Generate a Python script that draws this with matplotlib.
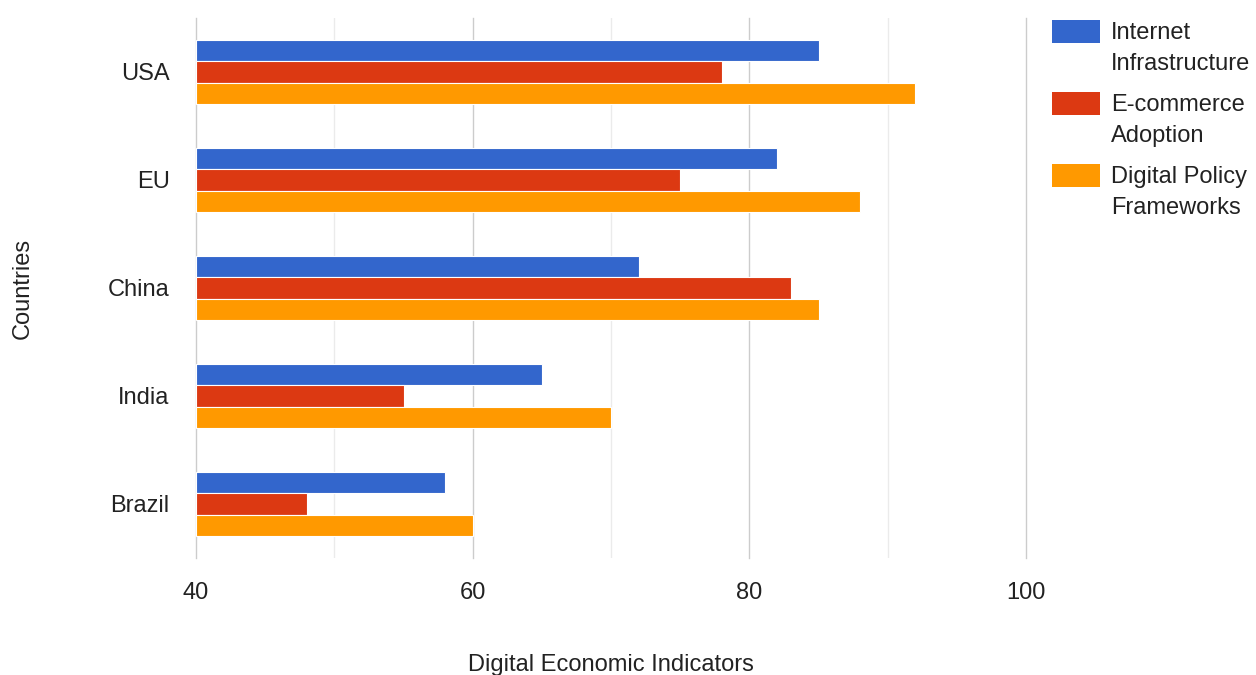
import matplotlib
matplotlib.use("Agg")
import matplotlib.pyplot as plt
from matplotlib.patches import Rectangle
import numpy as np

plt.rcParams['font.family'] = ['Liberation Sans', 'DejaVu Sans']

countries = ["USA", "EU", "China", "India", "Brazil"]
series_names = ["Internet\nInfrastructure", "E-commerce\nAdoption", "Digital Policy\nFrameworks"]
internet = [85, 82, 72, 65, 58]
ecommerce = [78, 75, 83, 55, 48]
policy = [92, 88, 85, 70, 60]
colors = ["#3366CC", "#DC3912", "#FF9900"]
xticks = [40, 60, 80, 100]

W, H = 1256, 675
FS = 17
TXT = "#222222"
fig = plt.figure(figsize=(W / 100, H / 100), dpi=100)
ax = fig.add_axes([196 / W, 117 / H, 830 / W, 540 / H])

y = np.arange(len(countries))
h = 0.2
for i, (vals, name, c) in enumerate(zip([internet, ecommerce, policy], series_names, colors)):
    ax.barh(y + (i - 1) * h, np.array(vals) - 40, left=40, height=h, color=c,
            edgecolor="white", linewidth=0.8, label=name, zorder=3)

ax.set_xlim(40, 100)
ax.set_ylim(len(countries) - 0.5, -0.5)
ax.set_yticks(y)
ax.set_yticklabels(countries)
ax.set_xticks(xticks)
ax.set_xticks([50, 70, 90], minor=True)
ax.grid(axis="x", which="major", color="#cccccc", linewidth=1, zorder=0)
ax.grid(axis="x", which="minor", color="#ebebeb", linewidth=1, zorder=0)
for gl in ax.xaxis.get_gridlines():
    gl.set_clip_on(False)
for s in ax.spines.values():
    s.set_visible(False)
ax.tick_params(axis="both", which="both", length=0, labelsize=FS, colors=TXT)
ax.tick_params(axis="y", pad=19)
ax.tick_params(axis="x", pad=17)
ax.set_xlabel("Digital Economic Indicators", fontsize=FS, color=TXT, va="center")
ax.xaxis.set_label_coords(0.5, -107 / 540)
ax.set_ylabel("Countries", fontsize=FS, color=TXT, va="center")
ax.yaxis.set_label_coords(-173 / 830, 0.5)

# legend drawn manually to match layout
for i, (name, c) in enumerate(zip(series_names, colors)):
    top = 20 + 72 * i
    fig.patches.append(Rectangle((1052 / W, 1 - (top + 23) / H), 48 / W, 23 / H,
                                 transform=fig.transFigure, facecolor=c, edgecolor="none"))
    fig.text(1111 / W, 1 - (top + 2) / H, name, fontsize=FS, color=TXT,
             va="top", ha="left", linespacing=1.55)

fig.savefig("out.png", dpi=100)
